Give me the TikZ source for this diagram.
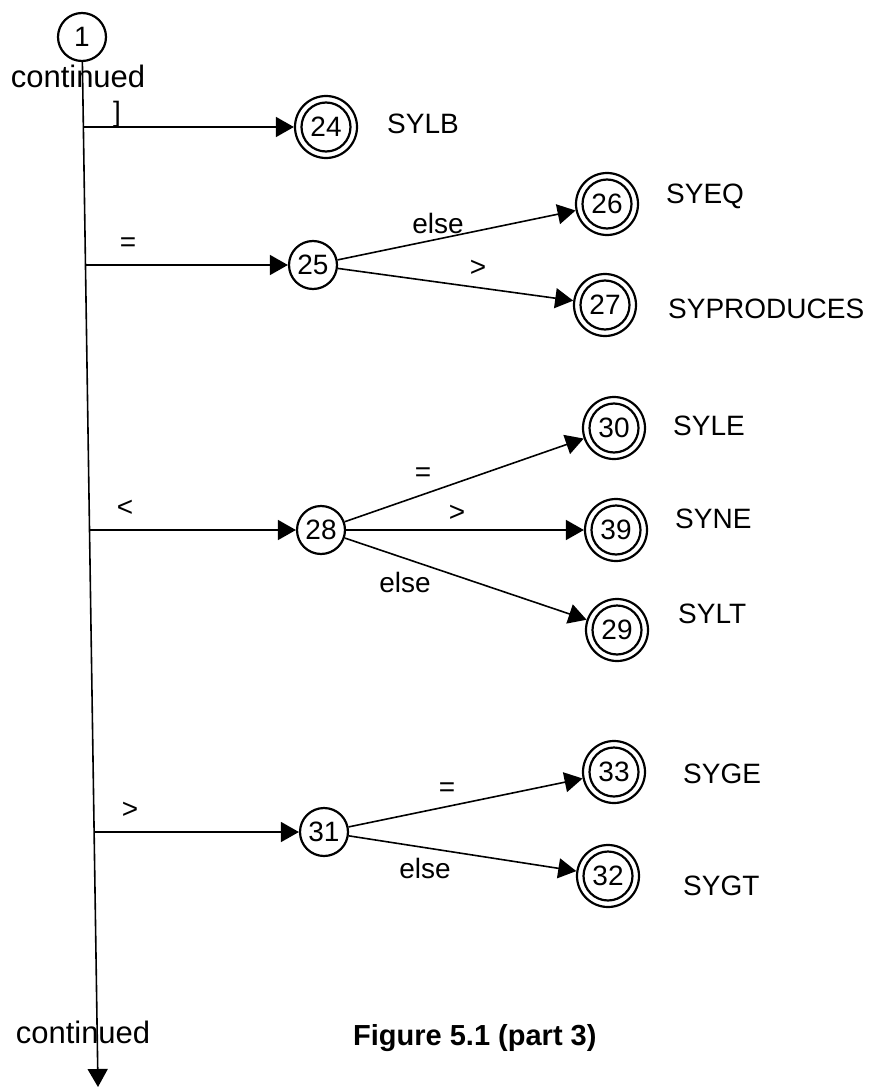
\documentclass[tikz,border=0pt]{standalone}
\usepackage{fontspec}
\setmainfont{Liberation Sans}
\usetikzlibrary{arrows.meta,calc}
\begin{document}
\begin{tikzpicture}[x=1pt,y=-1pt,
  lbl/.style={font=\fontsize{28}{30}\selectfont, inner sep=0pt},
  st/.style={circle,draw,line width=2.2pt,minimum size=48pt,inner sep=0pt,font=\fontsize{28}{30}\selectfont},
  acc/.style={st,minimum size=62pt,path picture={\draw[line width=2.2pt] (path picture bounding box.center) circle[radius=24.5pt];}},
  edge/.style={line width=1.6pt,-{Triangle[length=18pt,width=20pt]}},
]
\useasboundingbox (0,0) rectangle (874,1089);
% nodes
\node[st] (n1) at (82,37) {1};
\node[acc] (n24) at (326,127) {24};
\node[st] (n25) at (313,265) {25};
\node[acc] (n26) at (607,204) {26};
\node[acc] (n27) at (605,305) {27};
\node[st] (n28) at (321,530) {28};
\node[acc] (n30) at (614,428) {30};
\node[acc] (n39) at (616,530) {39};
\node[acc] (n29) at (617,630) {29};
\node[st] (n31) at (324,832) {31};
\node[acc] (n33) at (614,772) {33};
\node[acc] (n32) at (608,876) {32};
% texts
\node[lbl,anchor=base,font=\fontsize{31}{33}\selectfont] (ct) at (78,88) {continued};
\node[lbl,anchor=base,font=\fontsize{31}{33}\selectfont] (cb) at (83,1043) {continued};
\node[lbl,anchor=base west,font=\fontsize{29}{31}\selectfont\bfseries] (fig) at (353,1045) {Figure 5.1 (part 3)};
\node[lbl,anchor=base west] (t24) at (387,134) {SYLB};
\node[lbl,anchor=base west] (t26) at (666,203) {SYEQ};
\node[lbl,anchor=base west] (t27) at (668,318) {SYPRODUCES};
\node[lbl,anchor=base west] (t30) at (673,435) {SYLE};
\node[lbl,anchor=base west] (t39) at (675,528) {SYNE};
\node[lbl,anchor=base west] (t29) at (678,623) {SYLT};
\node[lbl,anchor=base west] (t33) at (683,783) {SYGE};
\node[lbl,anchor=base west] (t32) at (683,895) {SYGT};
% main line
\coordinate (bot) at (98,1087);
\draw[edge] (n1) -- (bot);
\coordinate (b1) at (83,127);
\coordinate (b2) at (85,265);
\coordinate (b3) at (89,530);
\coordinate (b4) at (94,832);
% branches
\draw[edge] (b1) -- (n24);
\draw[edge] (b2) -- (n25);
\draw[edge] (b3) -- (n28);
\draw[edge] (b4) -- (n31);
\draw[edge] (n25) -- (n26);
\draw[edge] (n25) -- (n27);
\draw[edge] (n28) -- (n30);
\draw[edge] (n28) -- (n39);
\draw[edge] (n28) -- (n29);
\draw[edge] (n31) -- (n33);
\draw[edge] (n31) -- (n32);
% edge labels
\node[lbl] (l1) at (117,114) {]};
\node[lbl] (l2) at (128,245) {=};
\node[lbl] (l3) at (125,508) {<};
\node[lbl] (l4) at (130,810) {>};
\node[lbl] (l5) at (438,223) {else};
\node[lbl] (l6) at (478,268) {>};
\node[lbl] (l7) at (423,475) {=};
\node[lbl] (l8) at (457,513) {>};
\node[lbl] (l9) at (405,582) {else};
\node[lbl] (l10) at (447,790) {=};
\node[lbl] (l11) at (425,868) {else};
\end{tikzpicture}
\end{document}
